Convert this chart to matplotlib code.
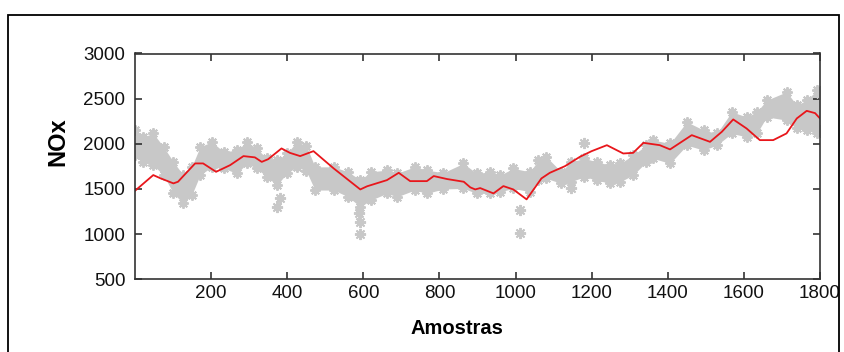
import numpy as np
import matplotlib
matplotlib.use('Agg')
from matplotlib import pyplot as plt
from matplotlib.patches import Rectangle

# red line (smoothed NOx)
red_x = [0, 48, 66, 101, 113, 158, 179, 213, 250, 285, 315, 333, 350, 385, 407, 434, 469,
         522, 592, 610, 662, 693, 723, 767, 785, 820, 864, 881, 894, 907, 942, 968, 994,
         1029, 1068, 1090, 1130, 1169, 1200, 1240, 1283, 1309, 1336, 1379, 1406, 1463,
         1511, 1542, 1572, 1607, 1642, 1677, 1712, 1739, 1765, 1787, 1800]
red_y = [1480, 1654, 1620, 1562, 1580, 1783, 1783, 1690, 1764, 1864, 1850, 1800, 1830, 1949,
         1900, 1864, 1919, 1728, 1495, 1530, 1598, 1679, 1587, 1587, 1643, 1610, 1580, 1518,
         1495, 1510, 1451, 1532, 1495, 1385, 1617, 1679, 1753, 1856, 1919, 1985, 1893, 1900,
         2011, 1985, 1938, 2096, 2022, 2133, 2270, 2170, 2041, 2041, 2115, 2281, 2365, 2340,
         2281]

# gray measured samples: lower / upper edge of the asterisk cloud
gray_x = [0, 22, 48, 75, 101, 127, 149, 171, 202, 233, 268, 294, 320, 346, 373, 399, 425,
          450, 473, 522, 560, 592, 620, 662, 689, 735, 767, 810, 863, 898, 933, 960, 994,
          1038, 1060, 1081, 1120, 1145, 1181, 1214, 1248, 1275, 1309, 1344, 1362, 1406,
          1450, 1494, 1529, 1568, 1607, 1634, 1660, 1712, 1739, 1765, 1792, 1800]
gray_lo = [1880, 1800, 1764, 1654, 1451, 1341, 1432, 1654, 1745, 1728, 1672, 1783, 1728,
           1635, 1543, 1672, 1745, 1700, 1488, 1488, 1414, 1303, 1377, 1451, 1414, 1488,
           1451, 1500, 1506, 1451, 1451, 1470, 1506, 1470, 1598, 1617, 1562, 1580, 1635,
           1598, 1562, 1580, 1654, 1800, 1838, 1783, 1985, 1930, 1985, 2115, 2077, 2115,
           2298, 2262, 2170, 2152, 2115, 2150]
gray_hi = [2150, 2077, 2115, 1967, 1800, 1654, 1745, 1967, 2022, 1911, 1930, 2022, 1949,
           1838, 1820, 1893, 2022, 1980, 1745, 1745, 1690, 1600, 1690, 1709, 1675, 1745,
           1709, 1680, 1783, 1672, 1690, 1654, 1728, 1690, 1820, 1856, 1690, 1800, 1838,
           1800, 1764, 1783, 1875, 1985, 2041, 2004, 2243, 2152, 2115, 2354, 2298, 2354,
           2483, 2575, 2428, 2483, 2594, 2550]

# isolated asterisks
out_x = [373, 380, 588, 590, 592, 1012, 1012, 1145, 1181, 1795]
out_y = [1303, 1400, 1230, 1130, 1000, 1266, 1009, 1510, 2004, 2150]

gray = '#c8c8c8'
star = (8, 2, 0)

fig = plt.figure(figsize=(8.45, 3.52), dpi=100)
fig.patches.append(Rectangle((8.5 / 845, -0.2), (839.5 - 8.5) / 845, 1.2 - 14.5 / 352,
                             transform=fig.transFigure, fill=False, edgecolor='black',
                             linewidth=1.3))
ax = fig.add_axes([135 / 845, 1 - 279.3 / 352, 685 / 845, (279.3 - 53.5) / 352])

ax.fill_between(gray_x, gray_lo, gray_hi, color=gray, linewidth=0)
ax.plot(gray_x, gray_lo, linestyle='none', marker=star, ms=7.5, mew=1.4, color=gray)
ax.plot(gray_x, gray_hi, linestyle='none', marker=star, ms=7.5, mew=1.4, color=gray)
ax.plot(out_x, out_y, linestyle='none', marker=star, ms=8, mew=1.4, color=gray)
ax.plot(red_x, red_y, color='#e8161b', linewidth=1.3)

ax.set_xlim(0, 1800)
ax.set_ylim(500, 3000)
ax.set_xticks([200, 400, 600, 800, 1000, 1200, 1400, 1600, 1800])
ax.set_yticks([500, 1000, 1500, 2000, 2500, 3000])
ax.tick_params(direction='in', top=True, right=True, length=5, width=1.1,
               labelsize=13.5, colors='#222222', labelcolor='#111111')
ax.tick_params(axis='y', pad=7)
ax.tick_params(axis='x', pad=4)
for lab in ax.get_xticklabels() + ax.get_yticklabels():
    lab.set_family('Liberation Sans')
for s in ax.spines.values():
    s.set_linewidth(1.2)
    s.set_color('#333333')

fig.text(58 / 845, 1 - 142 / 352, 'NOx', rotation=90, ha='center', va='center',
         fontsize=17, fontweight='bold', family='Liberation Sans')
fig.text(457 / 845, 1 - 328 / 352, 'Amostras', ha='center', va='center',
         fontsize=14.5, fontweight='bold', family='Liberation Sans')

fig.savefig('out.png', dpi=100)
